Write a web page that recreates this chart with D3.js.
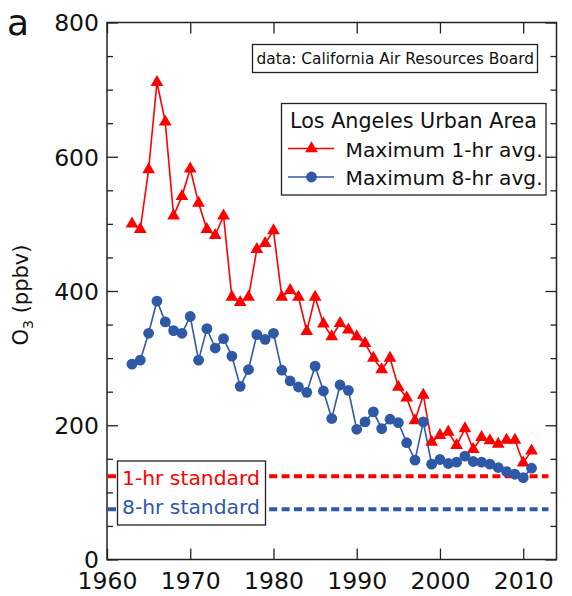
<!DOCTYPE html>
<html>
<head>
<meta charset="utf-8">
<script src="https://cdn.jsdelivr.net/npm/d3@7"></script>
<style>
  body { margin: 0; background: #fff; }
  svg { display: block; font-family: "DejaVu Sans", sans-serif; }
</style>
</head>
<body>
<svg id="chart" width="572" height="596"></svg>
<script>
const years = d3.range(1963, 2012);
const max1hr = [500, 492, 581, 711, 652, 512, 541, 582, 531, 492, 483, 512,
  391, 383, 391, 462, 471, 490, 391, 401, 391, 340, 391, 351, 332, 352, 342,
  332, 322, 300, 283, 300, 257, 241, 207, 245, 175, 185, 190, 170, 195, 164,
  182, 177, 172, 178, 178, 144, 162];
const max8hr = [291, 297, 337, 385, 354, 341, 337, 362, 297, 344, 315, 329,
  303, 258, 283, 335, 328, 337, 282, 266, 257, 249, 288, 251, 210, 260, 252,
  194, 205, 220, 195, 209, 204, 174, 148, 205, 142, 149, 143, 145, 154, 146,
  145, 142, 137, 131, 127, 122, 136];
const standards = [
  { label: "1-hr standard", value: 124 },
  { label: "8-hr standard", value: 75 }
];
const seriesNames = ["Maximum 1-hr avg.", "Maximum 8-hr avg."];
const xTicks = [1960, 1970, 1980, 1990, 2000, 2010];
const yTickLabels = [0, 200, 400, 600, 800];
const yMinorTicks = d3.range(0, 801, 50);

const RED = "#ff0000", BLUE = "#2e59a7";
const svg = d3.select("#chart");
const L = 107, R = 556.5, T = 22.5, B = 559.5;
const x = d3.scaleLinear().domain([1960, 2014]).range([L, R]);
const y = d3.scaleLinear().domain([0, 800]).range([B, T]);

// standards dashed lines
const stdColors = [RED, BLUE];
standards.forEach((s, i) => {
  svg.append("line")
    .attr("x1", L + 1).attr("x2", R - 8)
    .attr("y1", y(s.value)).attr("y2", y(s.value))
    .attr("stroke", stdColors[i]).attr("stroke-width", 4)
    .attr("stroke-dasharray", "8,4.4");
});
// standard label box
const sb = svg.append("g");
sb.append("rect").attr("x", 117.5).attr("y", 461).attr("width", 148).attr("height", 64)
  .attr("fill", "#fff").attr("stroke", "#222").attr("stroke-width", 1.3);
standards.forEach((s, i) => {
  sb.append("text").attr("x", 122).attr("y", i === 0 ? 485 : 514)
    .attr("fill", stdColors[i]).attr("font-size", 20.3).text(s.label);
});

// axes with inward ticks
const xAxisB = d3.axisBottom(x).tickValues(xTicks).tickSize(-11).tickFormat(d3.format("d")).tickPadding(13);
const gxb = svg.append("g").attr("transform", `translate(0,${B})`).call(xAxisB);
const gxt = svg.append("g").attr("transform", `translate(0,${T})`)
  .call(d3.axisTop(x).tickValues(xTicks).tickSize(-11).tickFormat(""));
const yMajor = d3.axisLeft(y).tickValues(yTickLabels).tickSize(-11).tickFormat(d3.format("d")).tickPadding(8);
const gyl = svg.append("g").attr("transform", `translate(${L},0)`).call(yMajor);
const gylm = svg.append("g").attr("transform", `translate(${L},0)`)
  .call(d3.axisLeft(y).tickValues(yMinorTicks.filter(v => v % 200 !== 0)).tickSize(-6).tickFormat(""));
const gyr = svg.append("g").attr("transform", `translate(${R},0)`)
  .call(d3.axisRight(y).tickValues(yTickLabels).tickSize(-11).tickFormat(""));
const gyrm = svg.append("g").attr("transform", `translate(${R},0)`)
  .call(d3.axisRight(y).tickValues(yMinorTicks.filter(v => v % 200 !== 0)).tickSize(-6).tickFormat(""));
[gxb, gxt, gyl, gylm, gyr, gyrm].forEach(g => {
  g.select(".domain").remove();
  g.selectAll(".tick line").attr("stroke", "#222").attr("stroke-width", 1.3);
  g.selectAll("text").attr("font-family", "DejaVu Sans").attr("font-size", 23.5).attr("fill", "#111");
});
gxb.selectAll("text").attr("dy", "0.71em");
gyl.selectAll("text").attr("dy", "0.36em");
// frame
svg.append("rect").attr("x", L).attr("y", T).attr("width", R - L).attr("height", B - T)
  .attr("fill", "none").attr("stroke", "#222").attr("stroke-width", 1.5);

// series
const d1 = years.map((yr, i) => [yr, max1hr[i]]);
const d8 = years.map((yr, i) => [yr, max8hr[i]]);
const line = d3.line().x(d => x(d[0])).y(d => y(d[1]));
svg.append("path").datum(d1).attr("d", line).attr("fill", "none").attr("stroke", RED).attr("stroke-width", 1.6);
svg.append("path").datum(d8).attr("d", line).attr("fill", "none").attr("stroke", BLUE).attr("stroke-width", 1.6);
const tri = d3.symbol().type(d3.symbolTriangle).size(70);
svg.append("g").selectAll("path").data(d1).join("path")
  .attr("transform", d => `translate(${x(d[0])},${y(d[1])})`)
  .attr("d", tri).attr("fill", RED);
svg.append("g").selectAll("circle").data(d8).join("circle")
  .attr("cx", d => x(d[0])).attr("cy", d => y(d[1])).attr("r", 5.4).attr("fill", BLUE);

// data source box
svg.append("rect").attr("x", 252.5).attr("y", 44.5).attr("width", 285).attr("height", 28)
  .attr("fill", "#fff").attr("stroke", "#222").attr("stroke-width", 1.3);
svg.append("text").attr("x", 256.5).attr("y", 64).attr("font-size", 15.4).attr("fill", "#111")
  .text("data: California Air Resources Board");

// legend
const lg = svg.append("g");
lg.append("rect").attr("x", 281.5).attr("y", 103.5).attr("width", 264.5).attr("height", 91.5)
  .attr("fill", "#fff").attr("stroke", "#222").attr("stroke-width", 1.3);
lg.append("text").attr("x", 290).attr("y", 128).attr("font-size", 20.7).attr("fill", "#111")
  .text("Los Angeles Urban Area");
[148.5, 177].forEach((cy, i) => {
  lg.append("line").attr("x1", 288).attr("x2", 334).attr("y1", cy).attr("y2", cy)
    .attr("stroke", i === 0 ? RED : BLUE).attr("stroke-width", 1.6);
  if (i === 0) {
    lg.append("path").attr("transform", `translate(311.5,${cy})`).attr("d", tri).attr("fill", RED);
  } else {
    lg.append("circle").attr("cx", 311.5).attr("cy", cy).attr("r", 5.4).attr("fill", BLUE);
  }
  lg.append("text").attr("x", 345.5).attr("y", cy + 8).attr("font-size", 20.2).attr("fill", "#111")
    .text(seriesNames[i]);
});

// y-axis label
const yl = svg.append("text").attr("transform", "translate(28,295) rotate(-90)")
  .attr("text-anchor", "middle").attr("font-size", 21).attr("fill", "#111");
yl.append("tspan").text("O");
yl.append("tspan").attr("font-size", 14).attr("dy", 5).text("3");
yl.append("tspan").attr("dy", -5).text(" (ppbv)");

// panel letter
svg.append("text").attr("x", 7).attr("y", 35).attr("font-size", 36).attr("fill", "#111").text("a");
</script>
</body>
</html>
